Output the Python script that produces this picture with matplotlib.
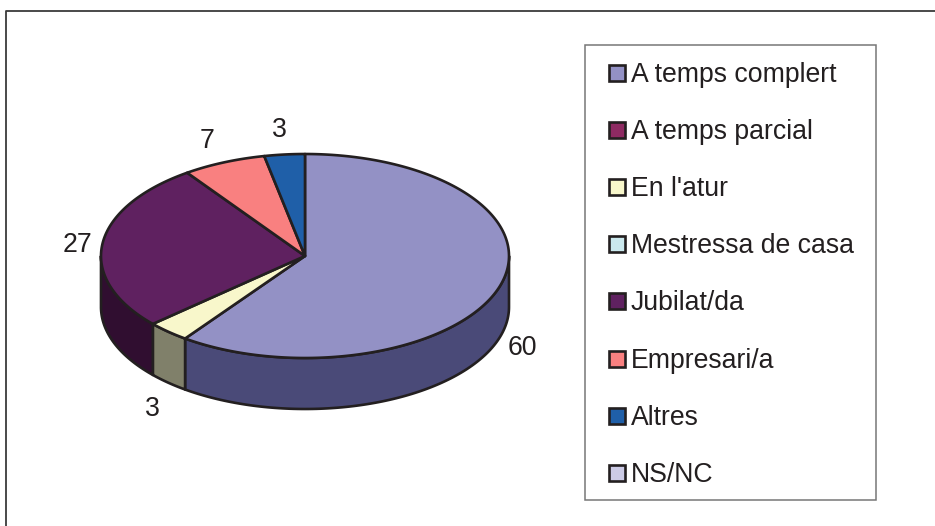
""" 3D PIE CHART
    Employment situation, drawn as an extruded pie in pixel-like axes.
"""

import numpy as np
import matplotlib
matplotlib.use('Agg')
import matplotlib.pyplot as plt
from matplotlib.patches import Rectangle

categories = ['A temps complert', 'A temps parcial', "En l'atur", 'Mestressa de casa',
              'Jubilat/da', 'Empresari/a', 'Altres', 'NS/NC']
# Shares as measured on the slices; the printed labels are these rounded
values = [60.0, 0, 3.4, 0, 26.8, 6.6, 3.2, 0]
top_colors = ['#9391C5', '#8E2A62', '#F8F7CB', '#CBE9EE', '#5F2160', '#F98080', '#1F5FA8', '#CCCBE6']
side_colors = ['#4A4A78', '#4A1533', '#80806A', '#6A7A7C', '#300E30', '#804040', '#103060', '#6A6A78']

# Geometry of the pie, in pixels
cx, cy, rx, ry, depth = 305, 256, 204, 102, 51
line = '#231F20'
lw = 1.9

plt.rcParams['font.family'] = ['Liberation Sans', 'DejaVu Sans']

fig = plt.figure(figsize=(9.35, 5.26), dpi=100)
ax = fig.add_axes([0, 0, 1, 1])
ax.set_xlim(0, 935)
ax.set_ylim(526, 0)
ax.axis('off')


def rim(t):
    """ Point on the top ellipse, t in degrees clockwise from the top. """
    r = np.radians(t)
    return cx + rx * np.sin(r), cy - ry * np.cos(r)


# Outer frame (open on the right) and legend box
ax.plot([5.5, 5.5, 940], [530, 11, 11], color='#3A3A3A', lw=1.3, zorder=1)
ax.add_patch(Rectangle((584.5, 44.5), 291, 455.5, fc='white', ec='#777777', lw=1.1, zorder=1))

# Slice angles from the values
edges = np.cumsum([0] + values) * 3.6

# Side walls: only the front half of the rim (90 to 270 degrees) is visible
for start, end, c in zip(edges[:-1], edges[1:], side_colors):
    a, b = max(start, 90), min(end, 270)
    if b <= a:
        continue
    t = np.linspace(a, b, 120)
    x, y = rim(t)
    ax.fill(np.r_[x, x[::-1]], np.r_[y, y[::-1] + depth], fc=c, ec=line, lw=lw, zorder=2, joinstyle='round')

# Top faces
for start, end, c in zip(edges[:-1], edges[1:], top_colors):
    if end <= start:
        continue
    t = np.linspace(start, end, 200)
    x, y = rim(t)
    ax.fill(np.r_[cx, x], np.r_[cy, y], fc=c, ec=line, lw=lw, zorder=3, joinstyle='round')

# Value labels
label_pos = {0: (522, 348), 2: (152, 409), 4: (77, 245), 5: (207, 141), 6: (279, 130)}
for i, (lx, ly) in label_pos.items():
    ax.text(lx, ly, '%.0f' % values[i], fontsize=19.2, color=line, ha='center', va='center', zorder=4)

# Legend
for i, (name, c) in enumerate(zip(categories, top_colors)):
    ly = 73 + i * 57.1
    ax.add_patch(Rectangle((609, ly - 8), 16, 16, fc=c, ec=line, lw=1.9, zorder=4))
    ax.text(631, ly + 2, name, fontsize=19.2, color=line, ha='left', va='center', zorder=4)

fig.savefig('out.png', dpi=100)
